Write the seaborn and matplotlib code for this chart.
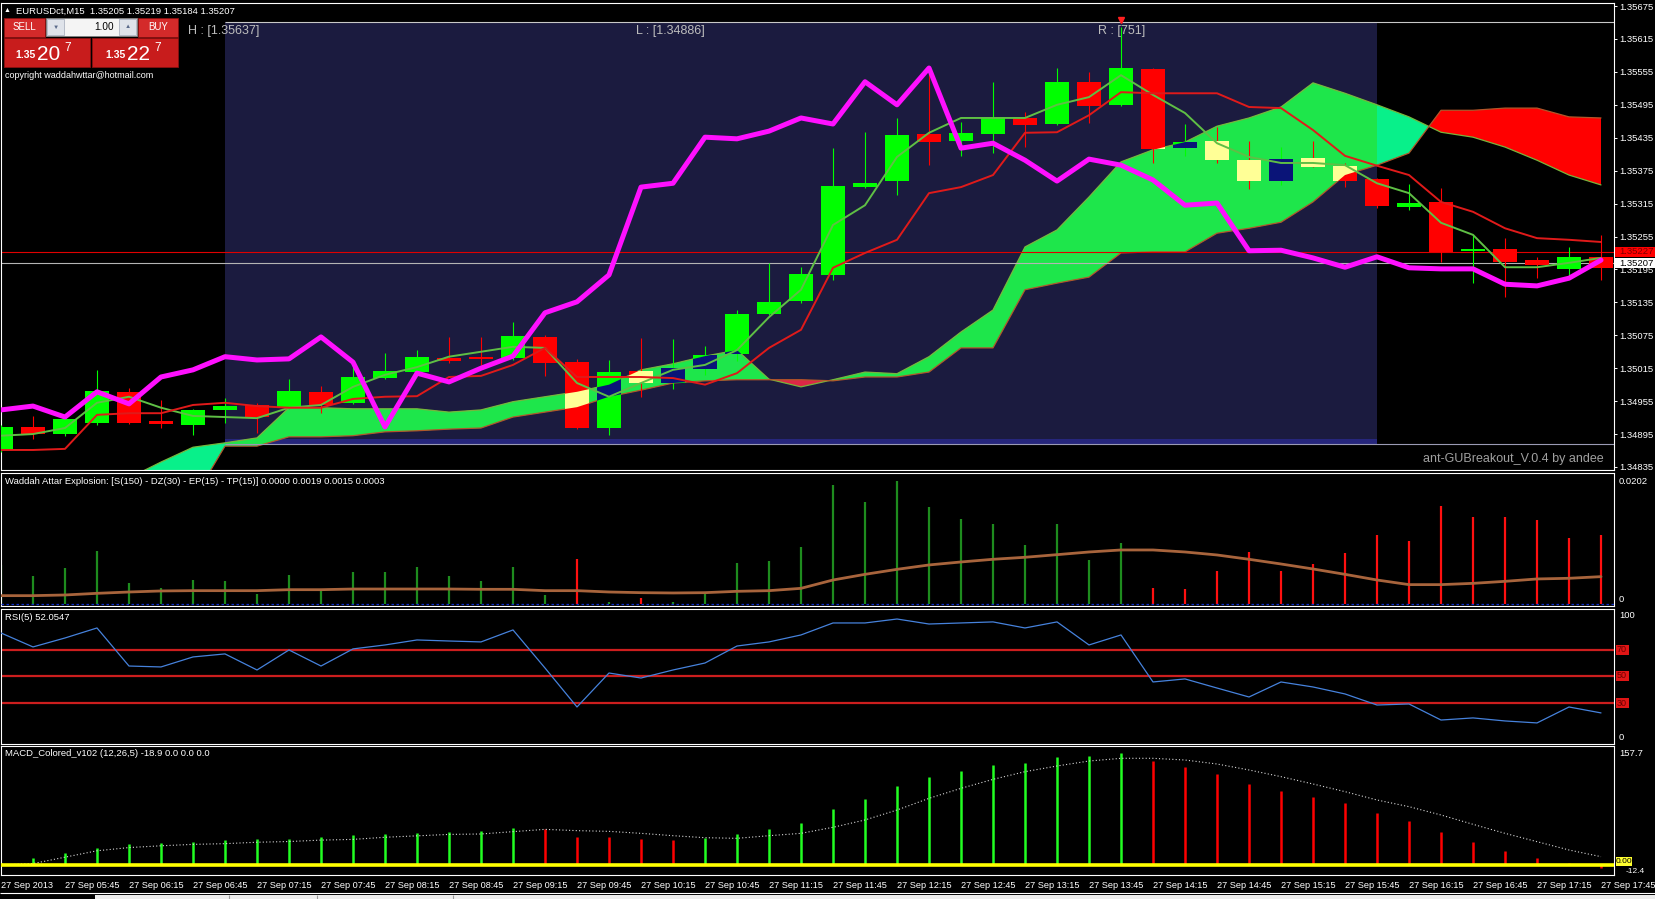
import numpy as np
import pandas as pd
import matplotlib
matplotlib.use("Agg")
import matplotlib.pyplot as plt
import seaborn as sns
from matplotlib.patches import Rectangle, PathPatch
from matplotlib.path import Path

sns.set_theme(style="dark")
plt.rcParams["font.family"] = ["Liberation Sans", "DejaVu Sans"]

# ---------------- data ----------------
tick_labels = ["27 Sep 2013", "27 Sep 05:45", "27 Sep 06:15", "27 Sep 06:45", "27 Sep 07:15",
               "27 Sep 07:45", "27 Sep 08:15", "27 Sep 08:45", "27 Sep 09:15", "27 Sep 09:45",
               "27 Sep 10:15", "27 Sep 10:45", "27 Sep 11:15", "27 Sep 11:45", "27 Sep 12:15",
               "27 Sep 12:45", "27 Sep 13:15", "27 Sep 13:45", "27 Sep 14:15", "27 Sep 14:45",
               "27 Sep 15:15", "27 Sep 15:45", "27 Sep 16:15", "27 Sep 16:45", "27 Sep 17:15",
               "27 Sep 17:45"]

opens = [1.34868, 1.34908, 1.34895, 1.34915, 1.34972, 1.34919, 1.34912, 1.34939, 1.34948, 1.34943,
         1.34972, 1.34952, 1.34997, 1.35008, 1.35034, 1.35036, 1.35034, 1.35072, 1.35026, 1.34906,
         1.35010, 1.34988, 1.35014, 1.35041, 1.35114, 1.35138, 1.35185, 1.35345, 1.35356, 1.35442,
         1.35429, 1.35442, 1.35471, 1.35460, 1.35537, 1.35495, 1.35560, 1.35416, 1.35429, 1.35394,
         1.35356, 1.35398, 1.35384, 1.35360, 1.35309, 1.35318, 1.35229, 1.35232, 1.35212, 1.35196,
         1.35218]
highs = [1.34912, 1.34928, 1.34924, 1.35012, 1.34979, 1.34957, 1.34941, 1.34961, 1.34952, 1.34995,
         1.34983, 1.35017, 1.35043, 1.35048, 1.35072, 1.35072, 1.35099, 1.35076, 1.35032, 1.35030,
         1.35070, 1.35068, 1.35055, 1.35121, 1.35207, 1.35199, 1.35416, 1.35445, 1.35471, 1.35564,
         1.35464, 1.35537, 1.35482, 1.35562, 1.35555, 1.35637, 1.35562, 1.35460, 1.35455, 1.35429,
         1.35418, 1.35429, 1.35389, 1.35362, 1.35351, 1.35343, 1.35258, 1.35252, 1.35218, 1.35236,
         1.35258]
lows = [1.34862, 1.34886, 1.34892, 1.34912, 1.34913, 1.34906, 1.34893, 1.34915, 1.34897, 1.34941,
        1.34933, 1.34950, 1.34995, 1.35006, 1.35025, 1.35021, 1.35030, 1.35001, 1.34904, 1.34893,
        1.34963, 1.34977, 1.35003, 1.35028, 1.35112, 1.35134, 1.35176, 1.35343, 1.35331, 1.35385,
        1.35402, 1.35407, 1.35418, 1.35458, 1.35462, 1.35493, 1.35389, 1.35402, 1.35389, 1.35342,
        1.35349, 1.35382, 1.35345, 1.35307, 1.35303, 1.35209, 1.35170, 1.35145, 1.35179, 1.35181,
        1.35176]
closes = [1.34908, 1.34895, 1.34923, 1.34974, 1.34915, 1.34913, 1.34939, 1.34946, 1.34926, 1.34974,
          1.34948, 1.34999, 1.35010, 1.35036, 1.35028, 1.35032, 1.35074, 1.35025, 1.34906, 1.35008,
          1.34988, 1.35015, 1.35039, 1.35114, 1.35136, 1.35187, 1.35347, 1.35352, 1.35440, 1.35427,
          1.35444, 1.35473, 1.35458, 1.35537, 1.35493, 1.35562, 1.35415, 1.35427, 1.35394, 1.35356,
          1.35396, 1.35382, 1.35356, 1.35311, 1.35316, 1.35227, 1.35230, 1.35209, 1.35203, 1.35218,
          1.35198]

tenkan = [1.34892, 1.34895, 1.34906, 1.34952, 1.34963, 1.34943, 1.34928, 1.34926, 1.34924, 1.34943,
          1.34948, 1.34981, 1.35003, 1.35017, 1.35036, 1.35045, 1.35054, 1.35052, 1.34988, 1.34963,
          1.34988, 1.35012, 1.35021, 1.35048, 1.35108, 1.35158, 1.35276, 1.35312, 1.35400, 1.35444,
          1.35471, 1.35471, 1.35471, 1.35495, 1.35509, 1.35549, 1.35513, 1.35480, 1.35425, 1.35400,
          1.35389, 1.35389, 1.35385, 1.35352, 1.35334, 1.35280, 1.35258, 1.35199, 1.35199, 1.35207,
          1.35216]
kijun = [1.34866, 1.34866, 1.34868, 1.34930, 1.34933, 1.34933, 1.34948, 1.34952, 1.34946, 1.34943,
         1.34943, 1.34959, 1.34963, 1.34964, 1.34999, 1.35001, 1.35021, 1.35052, 1.34999, 1.34999,
         1.34999, 1.34997, 1.34985, 1.35006, 1.35052, 1.35085, 1.35198, 1.35225, 1.35249, 1.35334,
         1.35345, 1.35367, 1.35444, 1.35445, 1.35476, 1.35518, 1.35516, 1.35516, 1.35516, 1.35491,
         1.35489, 1.35449, 1.35402, 1.35384, 1.35367, 1.35318, 1.35300, 1.35270, 1.35252, 1.35249,
         1.35245]
span_a = [1.34784, 1.34790, 1.34797, 1.34804, 1.34815, 1.34844, 1.34871, 1.34879, 1.34888, 1.34943,
          1.34943, 1.34941, 1.34941, 1.34941, 1.34935, 1.34939, 1.34954, 1.34963, 1.34972, 1.34985,
          1.35012, 1.35023, 1.35037, 1.35048, 1.34995, 1.34981, 1.34994, 1.35008, 1.35005, 1.35036,
          1.35081, 1.35121, 1.35236, 1.35267, 1.35327, 1.35391, 1.35413, 1.35427, 1.35456, 1.35471,
          1.35491, 1.35535, 1.35516, 1.35495, 1.35473, 1.35445, 1.35436, 1.35418, 1.35394, 1.35367,
          1.35349]
span_b = [1.34775, 1.34775, 1.34775, 1.34775, 1.34775, 1.34775, 1.34775, 1.34873, 1.34873, 1.34890,
          1.34890, 1.34892, 1.34899, 1.34901, 1.34904, 1.34906, 1.34926, 1.34935, 1.34944, 1.34963,
          1.34975, 1.34988, 1.34992, 1.34994, 1.34994, 1.34994, 1.34992, 1.34999, 1.34999, 1.35008,
          1.35052, 1.35052, 1.35158, 1.35170, 1.35181, 1.35225, 1.35227, 1.35227, 1.35261, 1.35270,
          1.35281, 1.35318, 1.35367, 1.35385, 1.35407, 1.35485, 1.35485, 1.35489, 1.35489, 1.35473,
          1.35471]
trend_line = [1.34939, 1.34946, 1.34926, 1.34972, 1.34950, 1.34999, 1.35012, 1.35036, 1.35030, 1.35032,
              1.35072, 1.35026, 1.34908, 1.35006, 1.34990, 1.35015, 1.35037, 1.35116, 1.35136, 1.35185,
              1.35345, 1.35352, 1.35436, 1.35433, 1.35447, 1.35471, 1.35460, 1.35537, 1.35495, 1.35562,
              1.35416, 1.35425, 1.35394, 1.35356, 1.35396, 1.35385, 1.35358, 1.35312, 1.35316, 1.35229,
              1.35230, 1.35216, 1.35199, 1.35218, 1.35198, 1.35196, 1.35196, 1.35168, 1.35165, 1.35179,
              1.35212]

range_start, range_end = 7, 43          # 07:00 .. 16:00 breakout box
range_high, range_low, range_pips = 1.35637, 1.34886, 751
box_top, box_bottom = 1.35645, 1.34877
ask_price, bid_price = 1.35227, 1.35207
arrow_bar, arrow_price = 35, 1.35650

price_ticks = [1.35675, 1.35615, 1.35555, 1.35495, 1.35435, 1.35375, 1.35315, 1.35255,
               1.35195, 1.35135, 1.35075, 1.35015, 1.34955, 1.34895, 1.34835]

wae_hist = [0.00641, 0.00460, 0.00597, 0.00876, 0.00350, 0.00268, 0.00394, 0.00378, 0.00164, 0.00476,
            0.00241, 0.00526, 0.00526, 0.00613, 0.00460, 0.00378, 0.00608, 0.00148, 0.00739, 0.00033,
            0.00104, 0.00033, 0.00175, 0.00673, 0.00712, 0.00942, 0.01955, 0.01670, 0.02020, 0.01593,
            0.01396, 0.01314, 0.00969, 0.01314, 0.00723, 0.00996, 0.00268, 0.00246, 0.00548, 0.00860,
            0.00548, 0.00657, 0.00843, 0.01133, 0.01040, 0.01615, 0.01434, 0.01434, 0.01380, 0.01090,
            0.01133]
wae_dir = list("gggggggggggggggggg" "rgr" "ggggggggggggggg" "rrrrrrrrrrrrrrr")
wae_explosion = [0.00137, 0.00137, 0.00148, 0.00175, 0.00197, 0.00214, 0.00219, 0.00219, 0.00219, 0.00235,
                 0.00235, 0.00246, 0.00246, 0.00246, 0.00246, 0.00241, 0.00241, 0.00219, 0.00219, 0.00197,
                 0.00186, 0.00181, 0.00186, 0.00208, 0.00219, 0.00257, 0.00394, 0.00487, 0.00569, 0.00641,
                 0.00690, 0.00734, 0.00767, 0.00810, 0.00854, 0.00887, 0.00887, 0.00854, 0.00805, 0.00734,
                 0.00657, 0.00575, 0.00487, 0.00394, 0.00318, 0.00318, 0.00339, 0.00372, 0.00411, 0.00422,
                 0.00449]

rsi = [82.9, 72.3, 79.1, 86.7, 57.8, 57.1, 64.7, 67.0, 54.8, 70.0,
       57.8, 70.8, 73.8, 77.6, 76.8, 76.1, 85.2, 56.3, 26.7, 52.5,
       48.7, 54.8, 60.1, 73.0, 76.1, 81.4, 90.5, 90.5, 93.5, 89.7,
       90.5, 91.3, 86.7, 91.3, 73.8, 81.4, 45.7, 48.0, 41.1, 34.3,
       45.7, 41.9, 36.6, 28.2, 29.0, 16.8, 18.4, 16.1, 14.6, 26.7, 22.2]
rsi_levels = [70, 50, 30]

macd_hist = [3.0, 9.6, 17.0, 24.5, 29.0, 30.5, 33.0, 35.0, 36.0, 37.0,
             39.0, 42.0, 44.0, 45.0, 46.0, 48.3, 52.5, 50.6, 39.8, 39.5,
             37.0, 35.1, 38.4, 43.1, 51.1, 59.5, 78.7, 92.8, 111.1, 124.2,
             132.1, 141.0, 143.4, 152.3, 153.7, 157.4, 146.7, 138.2, 127.5, 113.4,
             104.5, 96.1, 86.7, 72.6, 62.3, 45.9, 32.8, 20.1, 10.3, 3.3, -4.7]
macd_dir = list("ggggggggggggggggg" "rrrrr" "gggggggggggggg" "rrrrrrrrrrrrrrr")
macd_signal = [0.0, 2.0, 11.0, 20.0, 24.5, 27.0, 29.0, 30.0, 32.0, 33.0,
               35.0, 36.0, 39.0, 41.0, 43.0, 43.6, 46.9, 50.1, 48.3, 47.3,
               44.5, 41.2, 38.4, 37.5, 41.2, 44.5, 53.0, 63.3, 77.3, 93.7,
               107.8, 120.4, 131.2, 139.2, 146.2, 150.0, 150.0, 147.6, 142.0, 133.6,
               124.2, 113.9, 103.1, 91.4, 82.0, 70.3, 57.2, 44.5, 32.8, 21.1, 11.7]

# ---------------- layout ----------------
W, H = 1655, 899
fig = plt.figure(figsize=(W / 100, H / 100), dpi=100, facecolor="black")


def frac(x0, y0, x1, y1):
    return [x0 / W, 1 - y1 / H, (x1 - x0) / W, (y1 - y0) / H]


ax = fig.add_axes(frac(0.5, 3, 1614, 470))
ax_w = fig.add_axes(frac(0.5, 473, 1614, 606))
ax_r = fig.add_axes(frac(0.5, 609, 1614, 744))
ax_m = fig.add_axes(frac(0.5, 746, 1614, 875))
XLIM = (-0.0156, 50.406)
FS = 6.8

for a in (ax, ax_w, ax_r, ax_m):
    a.set_facecolor("black")
    for sp in a.spines.values():
        sp.set_color("white")
        sp.set_linewidth(0.8)
    a.grid(False)

n = len(opens)
x = np.arange(n)
O, Hh, Lw, C = map(np.array, (opens, highs, lows, closes))
sa, sb = np.array(span_a), np.array(span_b)

# ---------------- main price panel ----------------
box_w = range_end - range_start
ax.add_patch(Rectangle((range_start, box_bottom), box_w, box_top - box_bottom,
                       facecolor="#1b1b3f", edgecolor="none", zorder=0.5))
ax.add_patch(Rectangle((range_start, box_bottom), box_w, range_low - box_bottom,
                       facecolor="#26267c", edgecolor="none", zorder=0.6))
ax.hlines([box_top], range_start, XLIM[1], color="#c8c8c8", lw=0.8, zorder=2)
ax.hlines([box_bottom], range_start, XLIM[1], color="#9a9ab4", lw=0.8, zorder=2)

green_mask = sa >= sb
cl_g = ax.fill_between(x, sa, sb, where=green_mask, interpolate=True,
                       color="#08f08a", lw=0, zorder=1)
ax.fill_between(x, sa, sb, where=~green_mask, interpolate=True,
                color="#ff0000", lw=0, zorder=1)
box_clip = Rectangle((range_start, box_bottom), box_w, box_top - box_bottom, transform=ax.transData)
g_in = ax.fill_between(x, sa, sb, where=green_mask, interpolate=True,
                       color="#1ee64b", lw=0, zorder=1.1)
g_in.set_clip_path(box_clip)
r_in = ax.fill_between(x, sa, sb, where=~green_mask, interpolate=True,
                       color="#dc2846", lw=0, zorder=1.1)
r_in.set_clip_path(box_clip)

sns.lineplot(x=x, y=sa, ax=ax, color="#78b43c", lw=0.9, zorder=1.5, errorbar=None)
sns.lineplot(x=x, y=sb, ax=ax, color="#b0562a", lw=0.9, zorder=1.5, errorbar=None)

ax.axhline(ask_price, color="#e00000", lw=0.8, zorder=2)
ax.axhline(bid_price, color="#b4b4b4", lw=0.8, zorder=2)

up = C >= O
cols = np.where(up, "#00ff00", "#ff0000")
body_lo = np.minimum(O, C)
body_h = np.maximum(np.abs(C - O), 0.00003)
ax.vlines(x, Lw, Hh, colors=cols, lw=0.8, zorder=3)
ax.bar(x, body_h, bottom=body_lo, width=0.78, color=cols, lw=0, zorder=3.2)

cloud_patch = PathPatch(Path.make_compound_path(*cl_g.get_paths()), transform=ax.transData)
xor_cols = np.where(up, "#0a1478", "#ffff96")
over = ax.bar(x, body_h, bottom=body_lo, width=0.78, color=xor_cols, lw=0, zorder=3.4)
for p in over:
    p.set_clip_path(cloud_patch)

sns.lineplot(x=x, y=tenkan, ax=ax, color="#5fbf45", lw=1.4, zorder=4, errorbar=None)
sns.lineplot(x=x, y=kijun, ax=ax, color="#e01a1a", lw=1.4, zorder=4.1, errorbar=None)
sns.lineplot(x=x, y=trend_line, ax=ax, color="#ff10ff", lw=3.6, zorder=5, errorbar=None,
             solid_joinstyle="round")
ax.plot([arrow_bar], [arrow_price], marker="v", color="#ff2020", ms=5, zorder=6, ls="none")

ax.set_xlim(*XLIM)
ax.set_ylim(1.348295, 1.356805)
ax.set_xticks([])
ax.yaxis.tick_right()
ax.set_yticks(price_ticks)
ax.set_yticklabels([f"{v:.5f}" for v in price_ticks])
ax.tick_params(axis="y", colors="white", length=2.2, width=0.7, pad=1.4, labelsize=FS)
ax.set_xlabel("")
ax.set_ylabel("")

# ---------------- Waddah Attar Explosion ----------------
wcol = ["#1e8c1e" if d == "g" else "#ff1010" for d in wae_dir]
ax_w.vlines(x, 0, wae_hist, colors=wcol, lw=1.6, zorder=2)
sns.lineplot(x=x, y=wae_explosion, ax=ax_w, color="#a8643c", lw=2.0, zorder=3, errorbar=None)
ax_w.axhline(0, color="#1030d0", lw=0.9, ls=(0, (2, 2)), zorder=4)
ax_w.set_xlim(*XLIM)
ax_w.set_ylim(-0.00033, 0.02151)
ax_w.set_xticks([])
ax_w.set_yticks([])
ax_w.set_xlabel("")
ax_w.set_ylabel("")

# ---------------- RSI ----------------
for lv in rsi_levels:
    ax_r.axhline(lv, color="#cc1e1e", lw=1.6, zorder=1)
sns.lineplot(x=x, y=rsi, ax=ax_r, color="#4682dc", lw=0.9, zorder=3, errorbar=None)
ax_r.set_xlim(*XLIM)
ax_r.set_ylim(-1.4, 101.1)
ax_r.set_xticks([])
ax_r.set_yticks([])
ax_r.set_xlabel("")
ax_r.set_ylabel("")

# ---------------- MACD ----------------
mcol = ["#22ff22" if d == "g" else "#ff0000" for d in macd_dir]
ax_m.vlines(x, 0, macd_hist, colors=mcol, lw=1.8, zorder=2)
sns.lineplot(x=x, y=macd_signal, ax=ax_m, color="#d8d8d8", lw=0.8, ls=(0, (1, 2)), zorder=3, errorbar=None)
ax_m.axhline(0, color="#ffff00", lw=2.6, zorder=4)
ax_m.set_xlim(*XLIM)
ax_m.set_ylim(-14.06, 167.3)
ax_m.set_yticks([])
ax_m.set_xticks(np.arange(0, n, 2))
ax_m.set_xticklabels(tick_labels)
for lbl in ax_m.get_xticklabels():
    lbl.set_ha("left")
ax_m.tick_params(axis="x", colors="white", length=3, width=0.7, pad=1.5, labelsize=6.6)
ax_m.set_xlabel("")
ax_m.set_ylabel("")

# ---------------- overlay: texts, widgets, labels ----------------
ov = fig.add_axes([0, 0, 1, 1], zorder=10)
ov.set_xlim(0, W)
ov.set_ylim(H, 0)
ov.axis("off")
ov.patch.set_alpha(0)


def rect(x0, y0, w, h, fc, ec="none", lw=0.0):
    ov.add_patch(Rectangle((x0, y0), w, h, facecolor=fc, edgecolor=ec, linewidth=lw))


def txt(x0, y0, s, color="white", size=FS, ha="left", va="center", **kw):
    ov.text(x0, y0, s, color=color, fontsize=size, ha=ha, va=va, **kw)


# header
txt(4, 11, "\u25b2", size=5)
txt(16, 11, "EURUSDct,M15  1.35205 1.35219 1.35184 1.35207")
# one-click trading widget
rect(4, 18, 41, 19, "#d42a2a", "#8a1010", 0.6)
txt(24.5, 27.5, "SELL", ha="center", size=7)
rect(46, 18, 91, 18, "#f4f4f4", "#808080", 0.6)
rect(47, 19, 17, 16, "#dfe3ea", "#a0a8b8", 0.5)
rect(119, 19, 17, 16, "#dfe3ea", "#a0a8b8", 0.5)
txt(55.5, 27, "\u25bc", color="#5a6a8a", size=4.5, ha="center")
txt(127.5, 27, "\u25b2", color="#5a6a8a", size=4.5, ha="center")
txt(114, 27.5, "1.00", color="black", size=7.2, ha="right")
rect(138, 18, 40, 19, "#d42a2a", "#8a1010", 0.6)
txt(158, 27.5, "BUY", ha="center", size=7)
rect(4, 38, 86, 29, "#c81c1c", "#8a1010", 0.6)
rect(92, 38, 86, 29, "#c81c1c", "#8a1010", 0.6)
txt(15, 55.5, "1.35", size=7.5, fontweight="bold")
txt(37, 54, "20", size=15)
txt(64, 48, "7", size=8.5)
txt(105, 55.5, "1.35", size=7.5, fontweight="bold")
txt(127, 54, "22", size=15)
txt(154, 48, "7", size=8.5)
txt(5, 76, "copyright waddahwttar@hotmail.com", size=6.5)

# range labels
txt(188, 31, f"H : [{range_high:.5f}]", color="#bdbdbd", size=9)
txt(636, 31, f"L : [{range_low:.5f}]", color="#bdbdbd", size=9)
txt(1098, 31, f"R : [{range_pips}]", color="#bdbdbd", size=9)
txt(1604, 459, "ant-GUBreakout_V.0.4 by andee", color="#a0a0a0", size=9, ha="right")

# price labels on the axis
rect(1615, 246.5, 40, 10, "#ff0000")
txt(1619, 251.5, f"{ask_price:.5f}", color="#7a0000")
rect(1615, 258, 40, 10, "white")
txt(1619, 263, f"{bid_price:.5f}", color="black")

# indicator titles
txt(5, 482, "Waddah Attar Explosion: [S(150) - DZ(30) - EP(15) - TP(15)] 0.0000 0.0019 0.0015 0.0003")
txt(5, 617, "RSI(5) 52.0547")
txt(5, 753, "MACD_Colored_v102 (12,26,5) -18.9 0.0 0.0 0.0")

# indicator scale labels
txt(1619, 481, "0.0202")
txt(1619, 599, "0")
txt(1619, 616, "100")
txt(1619, 737, "0")
for lv, yy in zip(rsi_levels, [650, 676, 703]):
    rect(1615.5, yy - 5, 13, 10, "#e01515")
    txt(1622, yy, str(lv), color="#6a0000", size=6.5, ha="center")
txt(1619, 754, "157.7")
rect(1615.5, 857, 16, 9, "#ffff30")
txt(1616, 861.5, "0.00", color="black", size=6.0)
txt(1626, 871.5, "-12.4", size=6.0)

# status bar
ov.hlines(893, 0, W, color="white", lw=0.8)
rect(95, 895, W - 95, 4, "#ececec")
for sx in (229, 317, 453):
    ov.vlines(sx, 895, 899, color="#9a9a9a", lw=0.8)

fig.savefig("out.png", dpi=100, facecolor="black")
